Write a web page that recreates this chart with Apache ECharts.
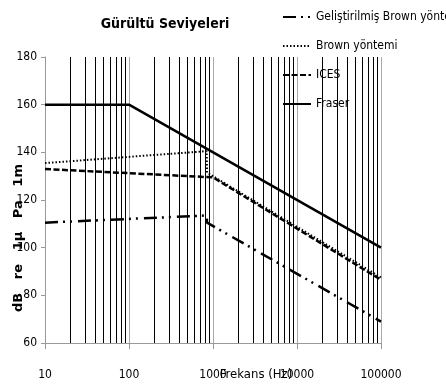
<!DOCTYPE html>
<html>
<head>
<meta charset="utf-8">
<script src="https://cdn.jsdelivr.net/npm/echarts@6/dist/echarts.min.js"></script>
<style>
  html, body { margin: 0; padding: 0; background: #fff; }
  #chart { width: 446px; height: 388px; }
</style>
</head>
<body>
<div id="chart"></div>
<script>
// Gürültü seviyeleri - frekans (Hz) / dB re 1µPa 1m
const seriesNames = ['Geliştirilmiş Brown yöntemi', 'Brown yöntemi', 'ICES', 'Fraser'];
const gelistirilmisBrown = [[10, 110.5], [840, 113.5], [850, 110.5], [100000, 69]];
const brown = [[10, 135.5], [840, 140.5], [850, 131.5], [100000, 87.5]];
const ices = [[10, 133], [1000, 129.5], [100000, 86.5]];
const fraser = [[10, 160], [100, 160], [100000, 100]];
const yTicks = [60, 80, 100, 120, 140, 160, 180];
// ara ızgara çizgileri (20..90 her on katta)
const minorX = [20, 30, 40, 50, 60, 70, 80, 90,
  200, 300, 400, 500, 600, 700, 800, 900,
  2000, 3000, 4000, 5000, 6000, 7000, 8000, 9000,
  20000, 30000, 40000, 50000, 60000, 70000, 80000, 90000];

const font = "'Liberation Sans Narrow', 'DejaVu Sans Condensed', sans-serif";
const chart = echarts.init(document.getElementById('chart'));

const option = {
  animation: false,
  textStyle: { fontFamily: font },
  title: {
    text: 'Gürültü Seviyeleri',
    left: 160, top: 12, textAlign: 'center',
    textStyle: { fontFamily: font, fontSize: 14, fontWeight: 'bold', color: '#000' }
  },
  legend: {
    data: seriesNames,
    orient: 'vertical',
    left: 277, top: 6,
    itemWidth: 28, itemHeight: 14, itemGap: 17,
    itemStyle: { opacity: 0, borderWidth: 0 },
    textStyle: { fontFamily: font, fontSize: 12, color: '#000' }
  },
  grid: { left: 45, right: 65, top: 57, bottom: 45 },
  xAxis: {
    type: 'log', logBase: 10, min: 10, max: 100000,
    axisLine: { lineStyle: { color: '#999', width: 1 } },
    axisTick: { show: true, length: 6, lineStyle: { color: '#999' } },
    axisLabel: { margin: 26, fontSize: 12, color: '#000', fontFamily: font,
      formatter: v => String(Math.round(v)) },
    splitLine: { show: true, lineStyle: { color: '#aaa', width: 1 } },
    minorTick: { show: false }
  },
  yAxis: {
    type: 'value', min: yTicks[0], max: yTicks[yTicks.length - 1], interval: 20,
    axisLine: { show: true, lineStyle: { color: '#999', width: 1 } },
    axisTick: { show: true, length: 4, lineStyle: { color: '#999' } },
    axisLabel: { fontSize: 12, color: '#000', fontFamily: font, margin: 8 },
    splitLine: { show: false }
  },
  graphic: [
    {
      type: 'text', x: 19, y: 238, rotation: Math.PI / 2,
      style: {
        text: 'dB   re   1µ   Pa   1m', fill: '#000',
        font: "bold 13px 'DejaVu Sans', sans-serif",
        textAlign: 'center', textVerticalAlign: 'middle'
      }
    },
    {
      type: 'text', x: 256, y: 375,
      style: {
        text: 'Frekans (Hz)', fill: '#000',
        font: "13px 'Liberation Sans Narrow', 'DejaVu Sans Condensed', sans-serif",
        textAlign: 'center', textVerticalAlign: 'middle'
      }
    }
  ],
  series: [
    {
      type: 'line', data: [], z: 1, silent: true,
      markLine: {
        silent: true, symbol: 'none', label: { show: false },
        lineStyle: { color: '#000', width: 1, type: 'solid' },
        data: minorX.map(v => ({ xAxis: v }))
      }
    },
    {
      name: seriesNames[0], type: 'line', data: gelistirilmisBrown, z: 3,
      symbol: 'none', showSymbol: false, color: '#000',
      lineStyle: { color: '#000', width: 2.5, type: [13, 5, 2, 5, 2, 6] }
    },
    {
      name: seriesNames[1], type: 'line', data: brown, z: 3,
      symbol: 'none', showSymbol: false, color: '#000',
      lineStyle: { color: '#000', width: 2, type: [1.5, 2] }
    },
    {
      name: seriesNames[2], type: 'line', data: ices, z: 3,
      symbol: 'none', showSymbol: false, color: '#000',
      lineStyle: { color: '#000', width: 2.5, type: [6, 2.5] }
    },
    {
      name: seriesNames[3], type: 'line', data: fraser, z: 3,
      symbol: 'none', showSymbol: false, color: '#000',
      lineStyle: { color: '#000', width: 2.5, type: 'solid' }
    }
  ]
};
chart.setOption(option);
</script>
</body>
</html>
